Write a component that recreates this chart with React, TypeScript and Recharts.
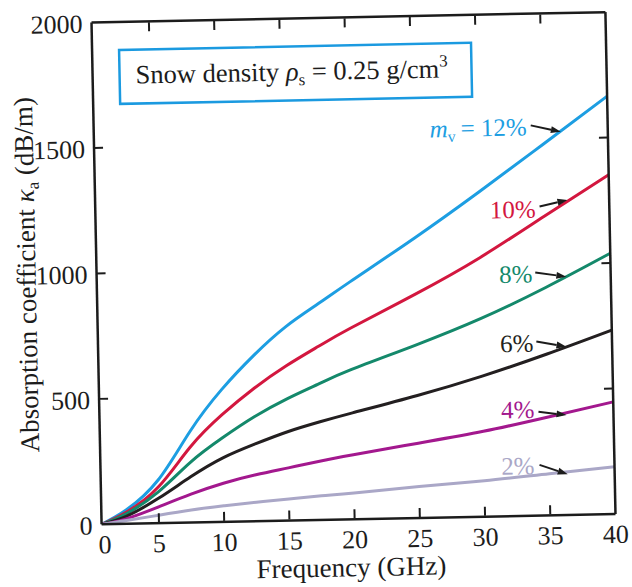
import React from 'react';
import { LineChart, Line, XAxis, YAxis, ReferenceDot } from 'recharts';

// Frequency samples (GHz) and absorption coefficient (dB/m) for each liquid water content m_v
const frequencies = [0.6, 2.5, 5, 7.5, 10, 12.5, 15, 17.5, 20, 25, 30, 35, 40];
const mv12 = [0, 55, 172, 362, 527, 660, 772, 860, 946, 1115, 1293, 1478, 1665];
const mv10 = [0, 46, 144, 300, 427, 530, 617, 692, 762, 892, 1032, 1192, 1352];
const mv8 = [0, 40, 125, 240, 335, 417, 485, 543, 597, 690, 790, 908, 1039];
const mv6 = [0, 30, 99, 182, 255, 308, 354, 391, 424, 488, 560, 643, 733];
const mv4 = [0, 20, 65, 113, 154, 185, 210, 235, 257, 298, 340, 392, 447];
const mv2 = [0, 13, 32, 50, 64, 76, 86, 96, 105, 125, 143, 166, 188];

const xDomain = [0.6, 40];
const xTicks = [0.6, 5, 10, 15, 20, 25, 30, 35, 40];
const yTicks = [0, 500, 1000, 1500, 2000];

const FONT = '"Liberation Serif", "DejaVu Serif", serif';
const INK = '#1c1c1c';

const series = [
  { key: 'mv12', color: '#1d9ee2', label: '12%' },
  { key: 'mv10', color: '#d3173f', label: '10%' },
  { key: 'mv8', color: '#14896b', label: '8%' },
  { key: 'mv6', color: '#231f20', label: '6%' },
  { key: 'mv4', color: '#a3188e', label: '4%' },
  { key: 'mv2', color: '#aaa7c7', label: '2%' },
];

const data = frequencies.map((f, i) => ({
  f,
  mv12: mv12[i],
  mv10: mv10[i],
  mv8: mv8[i],
  mv6: mv6[i],
  mv4: mv4[i],
  mv2: mv2[i],
}));

// Where each curve label's arrow touches its curve (data units), plus the label layout
const curveNotes = [
  { key: 'mv12', f: 36.4, k: 1527, tail: [-30, -7], text: [-34, 3] },
  { key: 'mv10', f: 36.8, k: 1255, tail: [-28, 6], text: [-32, 17] },
  { key: 'mv8', f: 36.6, k: 949, tail: [-31, -5], text: [-34, 5] },
  { key: 'mv6', f: 36.5, k: 670, tail: [-30, -6], text: [-33, 4] },
  { key: 'mv4', f: 36.4, k: 398, tail: [-28, -4], text: [-32, 2] },
  { key: 'mv2', f: 36.4, k: 162, tail: [-28, -10], text: [-33, -1] },
];

const fmtX = (v: number) => (v < 1 ? '0' : String(v));

const BottomTick = (p: any) => {
  const v = p.payload.value;
  const edge = v <= xDomain[0] || v >= xDomain[1];
  const y0 = p.y - 1;
  return (
    <g>
      {!edge && <line x1={p.x} x2={p.x} y1={y0} y2={y0 - 9} stroke={INK} strokeWidth={2} />}
      <text x={p.x + (v < 1 ? 3 : 0)} y={y0 + 30} textAnchor="middle" fontFamily={FONT} fontSize={26} fill={INK}>
        {fmtX(v)}
      </text>
    </g>
  );
};

const TopTick = (p: any) => {
  const y0 = p.y + 1;
  return <line x1={p.x} x2={p.x} y1={y0} y2={y0 + 9} stroke={INK} strokeWidth={2} />;
};

const LeftTick = (p: any) => {
  const v = p.payload.value;
  const edge = v === 0 || v === 2000;
  return (
    <g>
      {!edge && <line x1={p.x} x2={p.x + 9} y1={p.y} y2={p.y} stroke={INK} strokeWidth={2} />}
      <text x={p.x - 9} y={p.y + 10} textAnchor="end" fontFamily={FONT} fontSize={26} fill={INK}>
        {v}
      </text>
    </g>
  );
};

const RightTick = (p: any) => (
  <line x1={p.x} x2={p.x - 9} y1={p.y} y2={p.y} stroke={INK} strokeWidth={2} />
);

const makeNote = (note: any, color: string, label: string) => (props: any) => {
  const { cx, cy } = props;
  if (cx == null || cy == null) return <g />;
  const tx = cx + note.tail[0];
  const ty = cy + note.tail[1];
  const ang = Math.atan2(cy - ty, cx - tx);
  const hl = 10;
  const hw = 3.5;
  const bx = cx - hl * Math.cos(ang);
  const by = cy - hl * Math.sin(ang);
  const px = -Math.sin(ang) * hw;
  const py = Math.cos(ang) * hw;
  const isTop = note.key === 'mv12';
  return (
    <g>
      <line x1={tx} y1={ty} x2={bx} y2={by} stroke={INK} strokeWidth={2} />
      <polygon points={`${cx},${cy} ${bx + px},${by + py} ${bx - px},${by - py}`} fill={INK} />
      <text x={cx + note.text[0]} y={cy + note.text[1]} textAnchor="end" fontFamily={FONT} fontSize={25} fill={color}>
        {isTop ? (
          <>
            <tspan fontStyle="italic">m</tspan>
            <tspan fontSize={16} dy={5}>v</tspan>
            <tspan dy={-5}>{'\u2009= ' + label}</tspan>
          </>
        ) : (
          label
        )}
      </text>
    </g>
  );
};

export default function App() {
  const axisLine = { stroke: INK, strokeWidth: 2.5 };
  return (
    <div
      style={{
        position: 'absolute',
        left: 0,
        top: 0,
        width: 632,
        height: 587,
        background: '#fff',
        transform: 'rotate(-1.15deg)',
        transformOrigin: '316px 293.5px',
      }}
    >
      <LineChart width={632} height={587} data={data} margin={{ top: 17, right: 20, bottom: 66, left: 96 }}>
        <XAxis
          dataKey="f"
          type="number"
          domain={xDomain}
          ticks={xTicks}
          interval={0}
          allowDataOverflow
          height={1}
          tickSize={0}
          tickMargin={0}
          tickLine={false}
          axisLine={axisLine}
          tick={BottomTick}
        />
        <XAxis
          xAxisId="top"
          dataKey="f"
          orientation="top"
          type="number"
          domain={xDomain}
          ticks={[5, 10, 15, 20, 25, 30, 35]}
          interval={0}
          allowDataOverflow
          height={1}
          tickSize={0}
          tickMargin={0}
          tickLine={false}
          axisLine={axisLine}
          tick={TopTick}
        />
        <YAxis
          type="number"
          domain={[0, 2000]}
          ticks={yTicks}
          interval={0}
          allowDataOverflow
          width={1}
          tickSize={0}
          tickMargin={0}
          tickLine={false}
          axisLine={axisLine}
          tick={LeftTick}
        />
        <YAxis
          yAxisId="right"
          orientation="right"
          type="number"
          domain={[0, 2000]}
          ticks={[500, 1000, 1500]}
          interval={0}
          allowDataOverflow
          width={1}
          tickSize={0}
          tickMargin={0}
          tickLine={false}
          axisLine={axisLine}
          tick={RightTick}
        />
        {series.map((s) => (
          <Line
            key={s.key}
            dataKey={s.key}
            type="natural"
            stroke={s.color}
            strokeWidth={3}
            dot={false}
            activeDot={false}
            isAnimationActive={false}
          />
        ))}
        {curveNotes.map((n) => {
          const s = series.find((q) => q.key === n.key)!;
          return (
            <ReferenceDot
              key={'note-' + n.key}
              x={n.f}
              y={n.k}
              r={0}
              ifOverflow="visible"
              shape={makeNote(n, s.color, s.label)}
            />
          );
        })}
      </LineChart>
      <svg
        width={632}
        height={587}
        style={{ position: 'absolute', left: 0, top: 0, pointerEvents: 'none' }}
      >
        <rect x={124} y={46} width={352} height={54} fill="#fff" stroke="#1b9ae0" strokeWidth={2.5} />
        <text x={140} y={80} fontFamily={FONT} fontSize={26.5} fill={INK}>
          <tspan>Snow density </tspan>
          <tspan fontStyle="italic">ρ</tspan>
          <tspan fontSize={17} dy={5}>s</tspan>
          <tspan dy={-5}> = 0.25 g/cm</tspan>
          <tspan fontSize={17} dy={-11}>3</tspan>
        </text>
        <text x={346} y={577} textAnchor="middle" fontFamily={FONT} fontSize={27} fill={INK}>
          Frequency (GHz)
        </text>
        <text
          x={27}
          y={278}
          transform="rotate(-90, 27, 269)"
          textAnchor="middle"
          fontFamily={FONT}
          fontSize={27}
          fill={INK}
        >
          <tspan>Absorption coefficient </tspan>
          <tspan fontStyle="italic">κ</tspan>
          <tspan fontSize={17} dy={5}>a</tspan>
          <tspan dy={-5}> (dB/m)</tspan>
        </text>
      </svg>
    </div>
  );
}
